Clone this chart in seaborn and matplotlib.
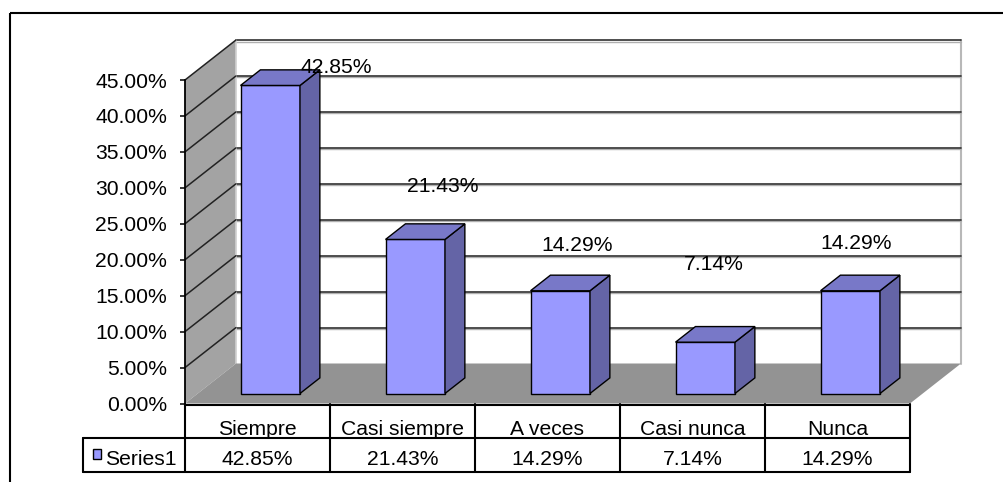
import matplotlib
matplotlib.use('Agg')
import matplotlib.pyplot as plt
import matplotlib.transforms as mtransforms
from matplotlib.patches import Polygon, Rectangle
from matplotlib.lines import Line2D
import seaborn as sns

# datos
categorias = ['Siempre', 'Casi siempre', 'A veces', 'Casi nunca', 'Nunca']
valores = [42.85, 21.43, 14.29, 7.14, 14.29]
etiquetas = ['42.85%', '21.43%', '14.29%', '7.14%', '14.29%']
serie = 'Series1'
yticks = [0, 5, 10, 15, 20, 25, 30, 35, 40, 45]

# disposicion (pixeles)
W, H = 1004, 482
PROF_X, PROF_Y = 51, 40          # profundidad del efecto 3d
BAR_D0, BAR_D1 = 0.25, 0.64      # profundidad de las barras
ANCHO = 0.41
label_nudge = [(79, 28), (40, 63), (30, 55), (21, 88), (19, 57)]

AZUL = '#9999FF'
AZUL_LADO = '#6464A6'
AZUL_TOPE = '#7878C8'
FS = 15.2

sns.set_theme(style='white')
plt.rcParams['font.family'] = ['Liberation Sans', 'DejaVu Sans']

fig = plt.figure(figsize=(W / 100, H / 100), dpi=100)
ax = fig.add_axes([185 / W, (H - 403.5) / H, 725 / W, (403.5 - 80) / H])

sns.barplot(x=categorias, y=valores, color=AZUL, saturation=1, width=ANCHO,
            edgecolor='black', linewidth=1, ax=ax, zorder=6)
ax.set_xlim(-0.5, len(categorias) - 0.5)
ax.set_ylim(0, 45)
ax.set_autoscale_on(False)
ax.patch.set_visible(False)

ident = mtransforms.IdentityTransform()


def proj(x, y, d):
    px, py = ax.transData.transform((x, y))
    return (px + d * PROF_X, py + d * PROF_Y)


def poly(pts, fc, z, ec='none', lw=0):
    ax.add_patch(Polygon(pts, closed=True, facecolor=fc, edgecolor=ec, linewidth=lw,
                         transform=ident, clip_on=False, zorder=z))


def linea(p0, p1, color, lw, z):
    ax.add_line(Line2D([p0[0], p1[0]], [p0[1], p1[1]], color=color, linewidth=lw,
                       transform=ident, clip_on=False, zorder=z))


x0, x1 = -0.5, len(categorias) - 0.5
ymax = yticks[-1]

# pared del fondo
poly([proj(x0, 0, 1), proj(x1, 0, 1), proj(x1, ymax, 1), proj(x0, ymax, 1)], 'white', 1)
linea(proj(x1, 0, 1), proj(x1, ymax, 1), '#b8b8b8', 1.5, 2)
for v in yticks[1:]:
    a, b = proj(x0, v, 1), proj(x1, v, 1)
    linea((a[0], a[1] - 1.5), (b[0], b[1] - 1.5), '#b0b0b0', 1.0, 2)
    linea(a, b, '#303030', 1.2, 2)

# pared lateral
poly([proj(x0, 0, 0), proj(x0, ymax, 0), proj(x0, ymax, 1), proj(x0, 0, 1)], '#a3a3a3', 3)
linea(proj(x0, 0, 1), proj(x0, ymax, 1), '#d0d0d0', 1.2, 3)
for v in yticks[1:]:
    linea(proj(x0, v, 0), proj(x0, v, 1), '#222222', 1.1, 4)

# piso
poly([proj(x0, 0, 0), proj(x1, 0, 0), proj(x1, 0, 1), proj(x0, 0, 1)], '#939393', 5)

# barras 3d
desplaza = mtransforms.Affine2D().translate(BAR_D0 * PROF_X, BAR_D0 * PROF_Y)
for p in ax.patches[:len(categorias)]:
    p.set_transform(ax.transData + desplaza)
    p.set_clip_on(False)
    bx, bw, bh = p.get_x(), p.get_width(), p.get_height()
    lado = [proj(bx + bw, 0, BAR_D0), proj(bx + bw, bh, BAR_D0),
            proj(bx + bw, bh, BAR_D1), proj(bx + bw, 0, BAR_D1)]
    tope = [proj(bx, bh, BAR_D0), proj(bx + bw, bh, BAR_D0),
            proj(bx + bw, bh, BAR_D1), proj(bx, bh, BAR_D1)]
    poly(lado, AZUL_LADO, 6, ec='black', lw=1)
    poly(tope, AZUL_TOPE, 6, ec='black', lw=1)

# etiquetas de datos
for i, (v, t) in enumerate(zip(valores, etiquetas)):
    ax.annotate(t, xy=(i, v), xytext=label_nudge[i], textcoords='offset pixels',
                ha='center', va='center', fontsize=FS, color='black',
                zorder=10, annotation_clip=False)

# eje y
ax.set_yticks(yticks)
ax.set_yticklabels([f'{t:.2f}%' for t in yticks])
ax.tick_params(axis='y', left=True, direction='out', length=3.6, width=1.1,
               color='black', pad=9.4, labelsize=FS, labelcolor='black')
ax.tick_params(axis='x', bottom=False, labelbottom=False)
ax.set_xlabel('')
ax.set_ylabel('')
for s in ['top', 'right', 'bottom']:
    ax.spines[s].set_visible(False)
ax.spines['left'].set_color('black')
ax.spines['left'].set_linewidth(1.3)
ax.spines['left'].set_zorder(7)

# tabla de datos y marco
ov = fig.add_axes([0, 0, 1, 1])
ov.set_xlim(0, W)
ov.set_ylim(H, 0)
ov.axis('off')
ov.patch.set_visible(False)

bordes = [ax.transData.transform((i - 0.5, 0))[0] for i in range(len(categorias) + 1)]
y_top = H - ax.transData.transform((0, 0))[1]
y_mid, y_bot = 438, 472
x_ley = 83

ov.plot([10, W], [13, 13], color='black', lw=1.5, solid_capstyle='butt')
ov.plot([10, 10], [13, H], color='black', lw=1.5, solid_capstyle='butt')

ov.plot([bordes[0], bordes[-1]], [y_top + 1, y_top + 1], color='black', lw=1.5)
ov.plot([x_ley, bordes[-1]], [y_mid, y_mid], color='black', lw=1.5)
ov.plot([x_ley, bordes[-1]], [y_bot, y_bot], color='black', lw=1.5)
ov.plot([x_ley, x_ley], [y_mid, y_bot], color='black', lw=1.5)
for b in bordes:
    ov.plot([b, b], [y_top, y_bot], color='black', lw=1.5)

for i, (c, t) in enumerate(zip(categorias, etiquetas)):
    xc = (bordes[i] + bordes[i + 1]) / 2
    ov.text(xc, 435, c, ha='center', va='baseline', fontsize=FS, color='black')
    ov.text(xc, 465, t, ha='center', va='baseline', fontsize=FS, color='black')

ov.add_patch(Rectangle((93, 449), 8, 10, facecolor=AZUL, edgecolor='black', lw=1))
ov.text(105, 465, serie, ha='left', va='baseline', fontsize=FS, color='black')

fig.savefig('out.png', dpi=100)
